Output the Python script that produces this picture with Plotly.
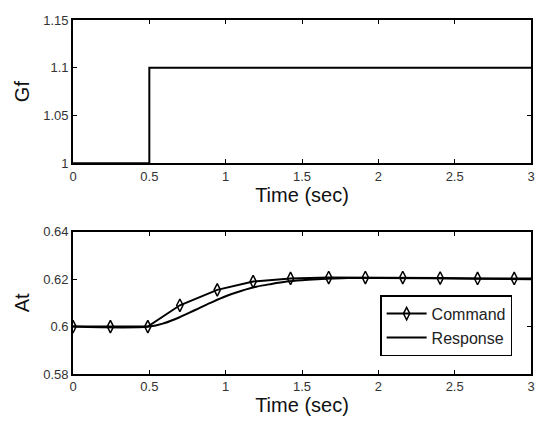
import plotly.graph_objects as go

# Top plot data: Gf step
gf_t = [0, 0.5, 0.5, 3.0]
gf_v = [1.0, 1.0, 1.1, 1.1]

# Bottom plot data
cmd_t = [0, 0.245, 0.49, 0.70, 0.945, 1.18, 1.425, 1.675, 1.915, 2.16, 2.405, 2.65, 2.89]
cmd_v = [0.600, 0.600, 0.600, 0.609, 0.6155, 0.619, 0.6203, 0.6207, 0.6207, 0.6207, 0.6205, 0.6203, 0.6203]
cmd_tail_t = [2.89, 3.0]
cmd_tail_v = [0.6203, 0.6203]

resp_t = [0, 0.5, 0.6, 0.7, 0.8, 0.9, 1.0, 1.1, 1.2, 1.3, 1.4, 1.5, 1.6, 1.7, 1.8, 2.0, 2.5, 3.0]
resp_v = [0.600, 0.600, 0.6015, 0.6040, 0.6070, 0.6100, 0.6128, 0.6150, 0.6168, 0.6180, 0.6190, 0.6196, 0.6200, 0.6203, 0.6205, 0.6205, 0.6203, 0.6200]

x_ticks = [0, 0.5, 1, 1.5, 2, 2.5, 3]
x_ticklabels = ["0", "0.5", "1", "1.5", "2", "2.5", "3"]
gf_ticks = [1, 1.05, 1.1, 1.15]
gf_ticklabels = ["1", "1.05", "1.1", "1.15"]
at_ticks = [0.58, 0.60, 0.62, 0.64]
at_ticklabels = ["0.58", "0.6", "0.62", "0.64"]

FONT = "Liberation Sans, Arial, Helvetica"

fig = go.Figure()
fig.add_trace(go.Scatter(x=gf_t, y=gf_v, mode="lines", line=dict(color="black", width=2),
                         xaxis="x", yaxis="y", showlegend=False))
fig.add_trace(go.Scatter(x=cmd_t, y=cmd_v, mode="lines+markers", name="Command",
                         line=dict(color="black", width=2),
                         marker=dict(symbol="diamond-tall-open", size=9, color="black",
                                     line=dict(width=1.5, color="black")),
                         xaxis="x2", yaxis="y2"))
fig.add_trace(go.Scatter(x=cmd_tail_t, y=cmd_tail_v, mode="lines", line=dict(color="black", width=2),
                         xaxis="x2", yaxis="y2", showlegend=False))
fig.add_trace(go.Scatter(x=resp_t, y=resp_v, mode="lines", name="Response",
                         line=dict(color="black", width=2, shape="spline"),
                         xaxis="x2", yaxis="y2"))

axis_common = dict(showline=True, linecolor="black", linewidth=1.6, mirror="ticks", ticks="inside",
                   ticklen=4, tickcolor="black", tickwidth=1, showgrid=False, zeroline=False,
                   tickfont=dict(family=FONT, size=13, color="#333"))
title_font = dict(family=FONT, size=20, color="#111")

fig.update_layout(
    width=547, height=423,
    margin=dict(l=73, r=12, t=20, b=47),
    paper_bgcolor="white", plot_bgcolor="white",
    xaxis=dict(domain=[0, 1], range=[0, 3], tickvals=x_ticks, ticktext=x_ticklabels, anchor="y",
               title=dict(text="Time (sec)", font=title_font, standoff=3), **axis_common),
    yaxis=dict(domain=[0.5955, 1.0], range=[1, 1.15], tickvals=gf_ticks, ticktext=gf_ticklabels, anchor="x",
               title=dict(text="Gf", font=title_font, standoff=8), **axis_common),
    xaxis2=dict(domain=[0, 1], range=[0, 3], tickvals=x_ticks, ticktext=x_ticklabels, anchor="y2",
                title=dict(text="Time (sec)", font=title_font, standoff=3), **axis_common),
    yaxis2=dict(domain=[0, 0.4017], range=[0.58, 0.64], tickvals=at_ticks, ticktext=at_ticklabels, anchor="x2",
                title=dict(text="At", font=title_font, standoff=8), **axis_common),
    legend=dict(x=0.671, y=0.222, xanchor="left", yanchor="top", bordercolor="black", borderwidth=1.3,
                bgcolor="white", font=dict(family=FONT, size=16, color="#222"),
                tracegroupgap=0, itemwidth=40),
)

fig.write_html("out.html")
